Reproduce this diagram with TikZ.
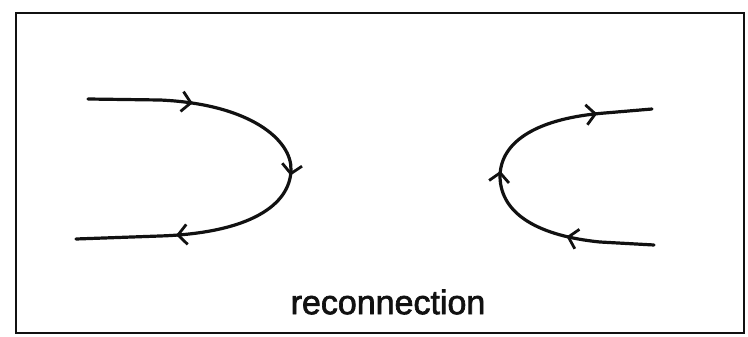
\documentclass[tikz,border=0pt]{standalone}
\usepackage{fontspec}
\setmainfont{Liberation Sans}
\newfontfamily\labelfont[FakeBold=2]{Liberation Sans}
\usepackage{xcolor}
\usepackage{tikz}
\usetikzlibrary{arrows.meta,decorations.markings}
\definecolor{inkx}{HTML}{111111}
\tikzset{
  fieldline/.style={line width=3.2pt,inkx,line cap=round},
  flowmarks/.style n args={3}{postaction={decorate},decoration={markings,
    mark=at position #1 with {\arrow{Straight Barb[length=9pt,width=20pt,line width=2.8pt]}},
    mark=at position #2 with {\arrow{Straight Barb[length=9pt,width=20pt,line width=2.8pt]}},
    mark=at position #3 with {\arrow{Straight Barb[length=9pt,width=20pt,line width=2.8pt]}}}},
  frame/.style={line width=2.2pt,inkx}
}

\begin{document}
\begin{tikzpicture}[x=1pt,y=-1pt]
\useasboundingbox (0,0) rectangle (748,337);
\draw[frame] (16,13) rectangle (744,333);
\coordinate (LA) at (88,99); \coordinate (LB) at (160,100);
\coordinate (LV) at (291,170);
\coordinate (LC) at (160,236); \coordinate (LD) at (76,239);
\coordinate (RA) at (654,245); \coordinate (RB) at (600,242);
\coordinate (RV) at (500,177);
\coordinate (RC) at (605,113); \coordinate (RD) at (652,109);
\draw[fieldline,flowmarks={0.22}{0.5}{0.79}] (LA) -- (LB)
  .. controls (250,104) and (292,140) .. (LV)
  .. controls (290,205) and (250,233) .. (LC) -- (LD);
\draw[fieldline,flowmarks={0.24}{0.52}{0.85}] (RA) -- (RB)
  .. controls (540,236) and (501,215) .. (RV)
  .. controls (500,140) and (540,118) .. (RC) -- (RD);
\node[inkx,font=\labelfont\fontsize{34}{40}\selectfont] (label) at (388,302) {reconnection};
\end{tikzpicture}
\end{document}
